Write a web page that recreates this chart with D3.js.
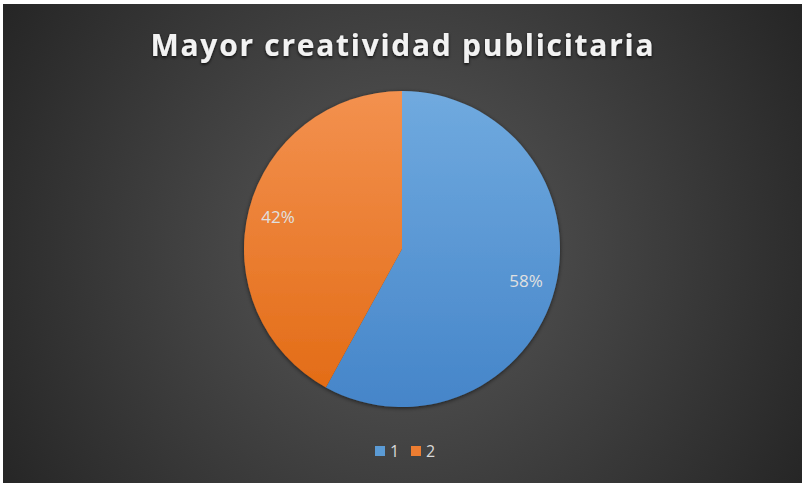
<!DOCTYPE html>
<html>
<head>
<meta charset="utf-8">
<script src="https://cdn.jsdelivr.net/npm/d3@7"></script>
<style>
  body { margin: 0; background: #ffffff; }
</style>
</head>
<body>
<svg id="drawing_region"></svg>
<script>
const title = "Mayor creatividad publicitaria";
const categories = ["1", "2"];
const values = [58, 42];
const colors = ["#5b9bd5", "#ed7d31"];

const config = {
    width: 803,
    height: 484,
    box: {x: 3, y: 4, w: 799, h: 479},
    cx: 402, cy: 249, r: 158
};

const svg = d3.select('#drawing_region')
    .attr('width', config.width)
    .attr('height', config.height);

const defs = svg.append('defs');

// fondo radial
const bg = defs.append('radialGradient')
    .attr('id', 'bg')
    .attr('gradientUnits', 'userSpaceOnUse')
    .attr('cx', config.cx).attr('cy', config.cy).attr('r', 480);
bg.append('stop').attr('offset', '0%').attr('stop-color', '#595959');
bg.append('stop').attr('offset', '100%').attr('stop-color', '#242424');

// gradientes de las porciones (coordenadas relativas al centro)
const shades = [["#70aadf", "#4585c9"], ["#f3914f", "#e26a13"]];
shades.forEach((s, i) => {
    const g = defs.append('linearGradient')
        .attr('id', 'slice' + i)
        .attr('gradientUnits', 'userSpaceOnUse')
        .attr('x1', 0).attr('y1', -config.r)
        .attr('x2', 0).attr('y2', config.r);
    g.append('stop').attr('offset', '0%').attr('stop-color', s[0]);
    g.append('stop').attr('offset', '100%').attr('stop-color', s[1]);
});

const shadow = defs.append('filter').attr('id', 'shadow')
    .attr('x', '-10%').attr('y', '-30%').attr('width', '120%').attr('height', '160%');
shadow.append('feDropShadow')
    .attr('dx', 0).attr('dy', 1.5).attr('stdDeviation', 1.5)
    .attr('flood-color', '#000').attr('flood-opacity', 0.8);

const pieShadow = defs.append('filter').attr('id', 'pieshadow')
    .attr('x', '-10%').attr('y', '-10%').attr('width', '120%').attr('height', '120%');
pieShadow.append('feDropShadow')
    .attr('dx', 0).attr('dy', 1).attr('stdDeviation', 2)
    .attr('flood-color', '#000').attr('flood-opacity', 0.6);

svg.append('rect')
    .attr('x', config.box.x).attr('y', config.box.y)
    .attr('width', config.box.w).attr('height', config.box.h)
    .attr('fill', 'url(#bg)');

svg.append('text')
    .attr('x', config.cx)
    .attr('y', 56)
    .attr('text-anchor', 'middle')
    .attr('font-family', 'Open Sans, sans-serif')
    .attr('font-weight', 'bold')
    .attr('font-size', '30px')
    .attr('textLength', 503)
    .attr('lengthAdjust', 'spacing')
    .attr('fill', '#f2f2f2')
    .attr('filter', 'url(#shadow)')
    .text(title);

const pie = d3.pie().sort(null).value(d => d);
const arcs = pie(values);
const arc = d3.arc().innerRadius(0).outerRadius(config.r);
const labelArc = d3.arc().innerRadius(config.r * 0.81).outerRadius(config.r * 0.81);

const chart = svg.append('g')
    .attr('transform', `translate(${config.cx}, ${config.cy})`);

chart.append('g')
    .attr('filter', 'url(#pieshadow)')
    .selectAll('path')
    .data(arcs)
    .enter()
    .append('path')
    .attr('d', arc)
    .attr('fill', (d, i) => `url(#slice${i})`);

chart.selectAll('text.label')
    .data(arcs)
    .enter()
    .append('text')
    .attr('class', 'label')
    .attr('transform', d => `translate(${labelArc.centroid(d)})`)
    .attr('text-anchor', 'middle')
    .attr('dy', '0.35em')
    .attr('font-family', 'Open Sans, sans-serif')
    .attr('font-size', '17px')
    .attr('fill', '#e0e0e0')
    .text(d => d.data + '%');

// leyenda
const legend = svg.append('g')
    .attr('transform', 'translate(375, 451)');

const item = legend.selectAll('g')
    .data(categories)
    .enter()
    .append('g')
    .attr('transform', (d, i) => `translate(${i * 36}, 0)`);

item.append('rect')
    .attr('x', 0).attr('y', -5)
    .attr('width', 10).attr('height', 10)
    .attr('fill', (d, i) => colors[i]);

item.append('text')
    .attr('x', 15)
    .attr('dy', '0.35em')
    .attr('font-family', 'Open Sans, sans-serif')
    .attr('font-size', '16px')
    .attr('fill', '#d9d9d9')
    .text(d => d);
</script>
</body>
</html>
